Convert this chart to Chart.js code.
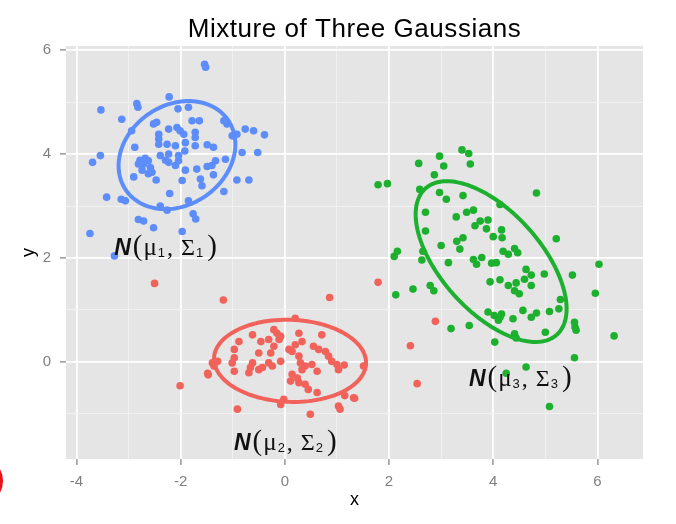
<!DOCTYPE html>
<html>
<head>
<meta charset="utf-8">
<title>Mixture of Three Gaussians</title>
<script src="https://cdn.jsdelivr.net/npm/chart.js@4.4.1/dist/chart.umd.min.js"></script>
<style>
  body { margin: 0; background: #fff; overflow: hidden; }
  #wrap { position: relative; width: 676px; height: 524px; }
  #ring { position: absolute; left: -47px; top: 456px; width: 40px; height: 40px;
          border: 5px solid #e8141a; border-radius: 50%; }
</style>
</head>
<body>
<div id="wrap">
  <canvas id="mixChart" width="676" height="524"></canvas>
  <div id="ring"></div>
</div>
<script>
// Points, one pair of arrays per component
const blueX = [-1.54, -1.52, -2.22, -3.53, -2.84, -2.82, -3.13, -2.05, -1.85, -2.52, -2.46, -1.78, -1.64, -1.17, -1.11,
  -2.23, -2.07, -2.01, -1.94, -1.72, -1.72, -2.94, -2.42, -2.42, -0.92, -0.76, -0.60, -0.39, -1.01, -2.26, -2.10,
  -1.91, -1.72, -1.49, -1.37, -2.88, -2.42, -1.92, -0.82, -0.52, -2.23, -2.04, -3.54, -3.69, -2.78, -2.68, -2.62,
  -2.39, -2.29, -2.23, -2.81, -2.71, -2.58, -2.55, -1.33, -1.40, -1.49, -1.14, -2.10, -2.04, -2.74, -2.62, -1.91,
  -1.69, -2.90, -2.47, -1.97, -1.62, -1.59, -1.37, -0.92, -0.69, -2.21, -1.17, -3.42, -3.14, -3.06, -1.85, -2.39,
  -2.26, -1.76, -1.71, -2.81, -2.71, -2.52, -1.97, -3.74, -3.27];
const blueY = [5.73, 5.67, 5.10, 4.85, 4.97, 4.90, 4.67, 4.87, 4.90, 4.58, 4.61, 4.64, 4.64, 4.64, 4.58,
  4.48, 4.51, 4.45, 4.38, 4.42, 4.32, 4.45, 4.38, 4.29, 4.38, 4.48, 4.45, 4.37, 4.35, 4.19, 4.16,
  4.22, 4.16, 4.18, 4.13, 4.13, 4.19, 4.06, 4.03, 4.03, 4.00, 3.97, 3.97, 3.84, 3.88, 3.92, 3.87,
  3.97, 3.88, 3.84, 3.81, 3.81, 3.74, 3.65, 3.87, 3.78, 3.76, 3.90, 3.78, 3.87, 3.69, 3.62, 3.69,
  3.71, 3.56, 3.50, 3.49, 3.52, 3.39, 3.60, 3.50, 3.50, 3.24, 3.28, 3.17, 3.13, 3.10, 3.10, 3.00,
  2.92, 2.85, 2.75, 2.74, 2.71, 2.58, 2.51, 2.47, 2.04];

const redX = [0.20, -0.21, -0.15, -0.62, -0.88, -0.46, -0.31, -0.08, -0.11, 0.27, 0.33, 0.20, 0.71, 0.55, 0.65,
  0.78, 0.08, 0.14, -0.21, -0.27, -0.50, -0.97, -0.97, -1.01, 0.27, 0.30, 0.39, 0.33, -0.08, -0.31, -0.24,
  -0.62, -0.66, -0.69, -0.50, -0.43, -0.97, 0.52, 0.62, 0.84, 0.90, 1.00, 1.03, -1.39, -1.29, -1.36, -1.48,
  0.14, 0.24, 0.11, 0.27, 0.39, 0.45, 0.62, -0.02, -0.08, -0.91, 0.49, 1.03, 1.06, 1.32, 1.51, 1.14, 1.15,
  -2.50, -1.18, 0.86, -2.01, -1.47, 1.79, 2.89, 2.41, 2.54, 1.34];
const redY = [0.84, 0.62, 0.55, 0.52, 0.39, 0.39, 0.43, 0.49, 0.43, 0.55, 0.39, 0.33, 0.52, 0.30, 0.24,
  0.20, 0.24, 0.20, 0.30, 0.17, 0.17, 0.24, 0.08, -0.02, 0.11, -0.02, -0.08, -0.15, 0.01, -0.02, -0.08,
  -0.02, -0.11, -0.21, -0.15, -0.11, -0.18, -0.05, -0.18, 0.11, 0.01, -0.05, -0.15, -0.02, 0.01, -0.08, -0.22,
  -0.24, -0.31, -0.37, -0.40, -0.43, -0.53, -0.59, -0.72, -0.82, -0.91, -1.01, -0.85, -0.91, -0.69, -0.08, -0.06, -0.65,
  1.51, 1.19, 1.24, -0.46, -0.25, 1.53, 0.78, 0.31, -0.42, -0.70];

const greenX = [3.40, 3.53, 2.97, 2.57, 3.05, 3.56, 2.87, 1.79, 1.97, 2.59, 2.97, 3.10, 3.42, 4.83, 4.13,
  2.70, 3.49, 3.62, 3.29, 3.75, 3.65, 3.90, 3.87, 2.70, 4.16, 4.00, 4.17, 5.21, 3.42, 3.30, 3.36,
  3.00, 4.41, 4.47, 4.19, 4.29, 2.16, 2.10, 2.65, 2.63, 3.14, 3.62, 3.78, 3.68, 3.97, 4.06, 6.03,
  4.63, 4.73, 4.98, 5.52, 3.94, 4.13, 4.29, 4.44, 4.60, 4.73, 4.41, 4.50, 2.79, 2.86, 2.46, 2.13,
  5.96, 5.29, 3.90, 4.02, 4.13, 4.10, 4.16, 4.38, 4.57, 4.83, 4.73, 5.08, 5.26, 5.56, 5.57, 5.59,
  6.32, 3.19, 3.54, 4.41, 4.44, 5.00, 4.03, 5.56, 4.63, 4.25, 5.08];
const greenY = [4.08, 4.01, 3.96, 3.82, 3.77, 3.81, 3.60, 3.41, 3.43, 3.32, 3.26, 3.13, 3.20, 3.25, 3.03,
  2.88, 2.88, 2.92, 2.79, 2.71, 2.62, 2.73, 2.56, 2.52, 2.54, 2.41, 2.39, 2.37, 2.39, 2.32, 2.17,
  2.24, 2.18, 2.10, 2.13, 2.07, 2.13, 2.03, 2.13, 1.96, 1.91, 1.97, 2.01, 1.88, 1.90, 1.91, 1.88,
  1.78, 1.67, 1.69, 1.67, 1.54, 1.58, 1.47, 1.52, 1.59, 1.47, 1.37, 1.31, 1.47, 1.37, 1.40, 1.29,
  1.32, 1.20, 0.96, 0.89, 0.86, 0.80, 0.92, 0.83, 0.99, 0.94, 0.86, 0.97, 1.02, 0.76, 0.67, 0.61,
  0.50, 0.64, 0.70, 0.54, 0.46, 0.57, 0.38, 0.08, -0.10, -0.22, -0.86];

// Ellipse for each component: centre, semi-axes, tilt in degrees (blue, red, green)
const ellipseCenterX = [-2.07, 0.10, 3.96];
const ellipseCenterY = [3.98, 0.02, 1.93];
const ellipseMajor = [1.19, 1.46, 1.89];
const ellipseMinor = [0.96, 0.79, 0.96];
const ellipseAngle = [34.7, -2, -48.2];

// N(mu_k, Sigma_k) annotations: anchor (centre, baseline) and index
const labelX = [-2.29, 0.01, 4.52];
const labelY = [2.06, -1.69, -0.46];
const labelIndex = ['1', '2', '3'];

const xMajor = [-4, -2, 0, 2, 4, 6];
const xMinor = [-3, -1, 1, 3, 5];
const yMajor = [0, 2, 4, 6];
const yMinor = [-1, 1, 3, 5];

const chartTitle = 'Mixture of Three Gaussians';
const colors = ['#5C8DFA', '#F1625B', '#1DB02F'];
const fontSans = '"Liberation Sans", Arial, sans-serif';
const fontSerif = '"Liberation Serif", "Times New Roman", serif';

function toPoints(xs, ys) {
    return xs.map((x, i) => ({ x: x, y: ys[i] }));
}

// grey panel behind the grid, ggplot style
const panelBackground = {
    id: 'panelBackground',
    beforeDraw(chart) {
        const { ctx, chartArea: a } = chart;
        ctx.save();
        ctx.fillStyle = '#E5E5E5';
        ctx.fillRect(a.left, a.top, a.right - a.left, a.bottom - a.top);
        ctx.restore();
    }
};

// title centred over the panel (ggplot centres on the panel, not the canvas)
const panelTitle = {
    id: 'panelTitle',
    afterDraw(chart) {
        const { ctx, chartArea: a } = chart;
        ctx.save();
        ctx.font = '26px ' + fontSans;
        ctx.letterSpacing = '0.55px';
        ctx.fillStyle = '#000';
        ctx.textAlign = 'center';
        ctx.textBaseline = 'alphabetic';
        ctx.fillText(chartTitle, (a.left + a.right) / 2, 37);
        ctx.restore();
    }
};

const ellipsePlugin = {
    id: 'ellipses',
    afterDatasetsDraw(chart) {
        const { ctx, chartArea: a, scales: { x, y } } = chart;
        ctx.save();
        ctx.beginPath();
        ctx.rect(a.left, a.top, a.right - a.left, a.bottom - a.top);
        ctx.clip();
        ctx.lineWidth = 4;
        ctx.lineJoin = 'round';
        for (let k = 0; k < ellipseCenterX.length; k++) {
            const t = ellipseAngle[k] * Math.PI / 180;
            ctx.strokeStyle = colors[k];
            ctx.beginPath();
            for (let s = 0; s <= 120; s++) {
                const p = s / 120 * 2 * Math.PI;
                const u = ellipseMajor[k] * Math.cos(p);
                const v = ellipseMinor[k] * Math.sin(p);
                const px = x.getPixelForValue(ellipseCenterX[k] + u * Math.cos(t) - v * Math.sin(t));
                const py = y.getPixelForValue(ellipseCenterY[k] + u * Math.sin(t) + v * Math.cos(t));
                if (s === 0) ctx.moveTo(px, py); else ctx.lineTo(px, py);
            }
            ctx.closePath();
            ctx.stroke();
        }
        ctx.restore();
    }
};

const labelPlugin = {
    id: 'componentLabels',
    afterDatasetsDraw(chart) {
        const { ctx, scales: { x, y } } = chart;
        ctx.save();
        ctx.fillStyle = '#111';
        ctx.textBaseline = 'alphabetic';
        ctx.textAlign = 'left';
        for (let k = 0; k < labelX.length; k++) {
            const sub = labelIndex[k];
            const pieces = [
                { text: 'N', font: 'italic bold 23px ' + fontSans, gap: 0, dy: 0 },
                { text: '(', font: '29px ' + fontSerif, gap: 2, dy: 0 },
                { text: 'μ', font: '25px ' + fontSerif, gap: 1, dy: 0 },
                { text: sub, font: '13px ' + fontSans, gap: 1, dy: 2 },
                { text: ',', font: '24px ' + fontSerif, gap: 2, dy: 0 },
                { text: 'Σ', font: '24px ' + fontSerif, gap: 8, dy: 0 },
                { text: sub, font: '13px ' + fontSans, gap: 1, dy: 2 },
                { text: ')', font: '29px ' + fontSerif, gap: 4, dy: 0 }
            ];
            let total = 0;
            pieces.forEach(p => {
                ctx.font = p.font;
                p.w = ctx.measureText(p.text).width;
                total += p.gap + p.w;
            });
            let cx = x.getPixelForValue(labelX[k]) - total / 2;
            const base = y.getPixelForValue(labelY[k]);
            pieces.forEach(p => {
                cx += p.gap;
                ctx.font = p.font;
                ctx.fillText(p.text, cx, base + p.dy);
                cx += p.w;
            });
        }
        ctx.restore();
    }
};

function gridOptions(major) {
    return {
        color: c => major.includes(c.tick.value) ? '#FFFFFF' : '#F2F2F2',
        lineWidth: c => major.includes(c.tick.value) ? 1.8 : 0.9,
        tickColor: c => major.includes(c.tick.value) ? '#7F7F7F' : 'rgba(0,0,0,0)',
        tickLength: 6,
        tickWidth: 1.2
    };
}

function tickOptions(major) {
    return {
        callback: v => major.includes(v) ? String(v) : '',
        color: '#7F7F7F',
        font: { family: fontSans, size: 15 },
        autoSkip: false,
        maxRotation: 0
    };
}

const ctx = document.getElementById('mixChart').getContext('2d');
new Chart(ctx, {
    type: 'scatter',
    data: {
        datasets: [
            { data: toPoints(blueX, blueY), backgroundColor: colors[0] },
            { data: toPoints(redX, redY), backgroundColor: colors[1] },
            { data: toPoints(greenX, greenY), backgroundColor: colors[2] }
        ]
    },
    options: {
        responsive: false,
        animation: false,
        events: [],
        elements: { point: { radius: 3.8, borderWidth: 0, hoverRadius: 3.8 } },
        layout: { padding: { left: 0, right: 33, top: 46, bottom: 0 } },
        plugins: {
            legend: { display: false },
            tooltip: { enabled: false },
            title: { display: false }
        },
        scales: {
            x: {
                type: 'linear',
                min: -4.2,
                max: 6.875,
                afterFit: s => { s.height = 65; },
                afterBuildTicks: s => {
                    s.ticks = xMajor.concat(xMinor).sort((a, b) => a - b).map(v => ({ value: v }));
                },
                grid: gridOptions(xMajor),
                border: { display: false },
                ticks: Object.assign(tickOptions(xMajor), { padding: 8 }),
                title: { display: true, text: 'x', color: '#000', font: { family: fontSans, size: 18 },
                         padding: { top: 0, bottom: 13 } }
            },
            y: {
                type: 'linear',
                min: -1.87,
                max: 6.08,
                afterFit: s => { s.width = 66; },
                afterBuildTicks: s => {
                    s.ticks = yMajor.concat(yMinor).sort((a, b) => a - b).map(v => ({ value: v }));
                },
                grid: gridOptions(yMajor),
                border: { display: false },
                ticks: Object.assign(tickOptions(yMajor), { padding: 9 }),
                title: { display: true, text: 'y', color: '#000', font: { family: fontSans, size: 18 },
                         padding: { top: 18, bottom: 0 } }
            }
        }
    },
    plugins: [panelBackground, ellipsePlugin, labelPlugin, panelTitle]
});
</script>
</body>
</html>
